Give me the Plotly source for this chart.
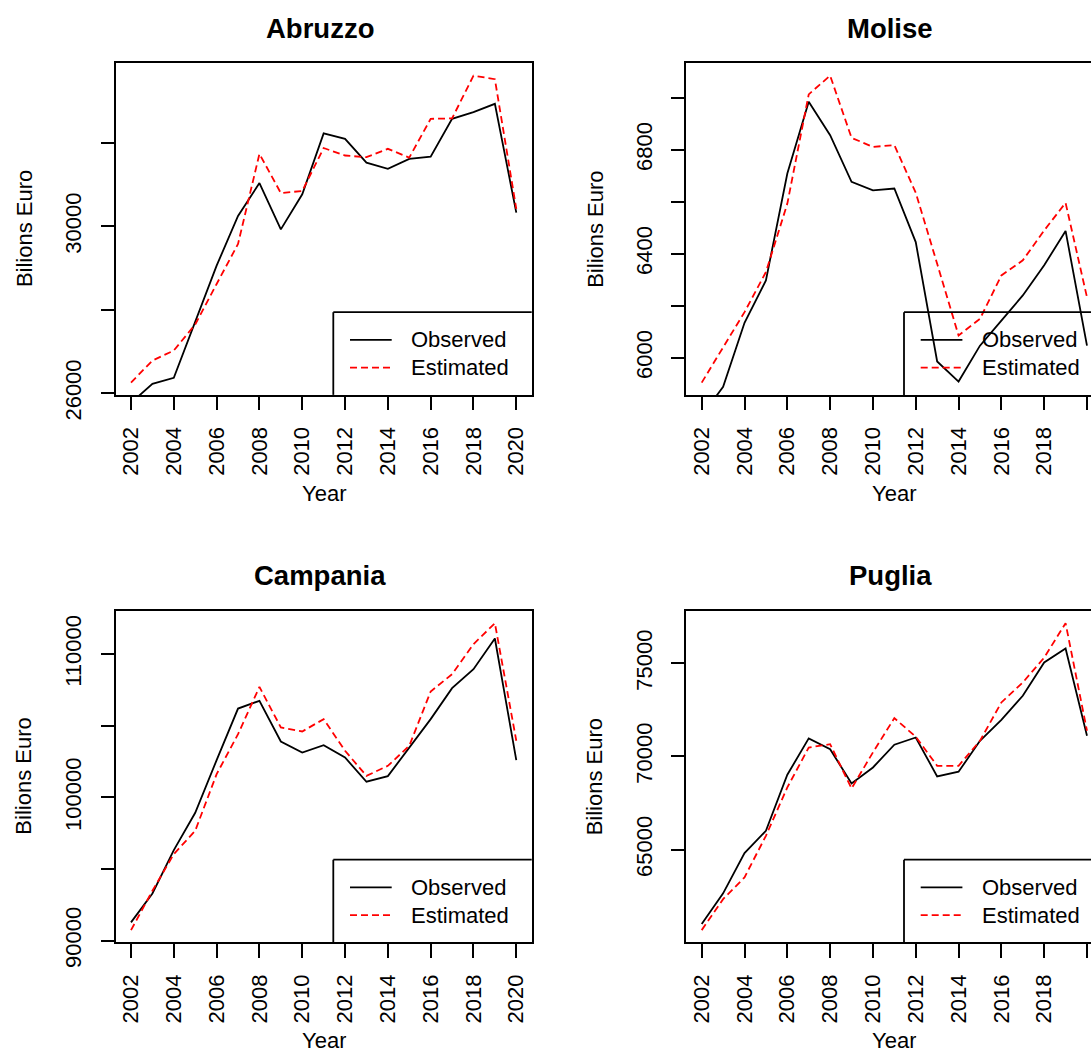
import plotly.graph_objects as go

# ---------------------------------------------------------------- data
years = list(range(2002, 2021))

abruzzo_obs = [25770, 26226, 26372, 27730, 29060, 30250, 31040, 29930, 30770, 32230,
               32100, 31530, 31380, 31620, 31670, 32580, 32740, 32940, 30330]
abruzzo_est = [26256, 26785, 27025, 27650, 28620, 29580, 31740, 30800, 30850, 31880,
               31700, 31660, 31860, 31650, 32580, 32590, 33615, 33530, 30420]

molise_obs = [5777, 5889, 6135, 6298, 6709, 6985, 6856, 6677, 6644, 6651,
              6445, 5986, 5909, 6047, 6143, 6240, 6356, 6488, 6047]
molise_est = [5905, 6040, 6176, 6330, 6593, 7013, 7085, 6846, 6811, 6818,
              6635, 6362, 6086, 6150, 6317, 6375, 6490, 6596, 6233]

campania_obs = [91280, 93300, 96330, 98930, 102610, 106210, 106750, 103910, 103140, 103650,
                102790, 101100, 101490, 103490, 105470, 107630, 108960, 111100, 102610]
campania_est = [90741, 93490, 96050, 97680, 101630, 104420, 107720, 104890, 104610, 105470,
                103260, 101510, 102210, 103610, 107400, 108610, 110700, 112170, 103960]

puglia_obs = [61000, 62650, 64810, 66010, 69020, 70970, 70390, 68550, 69410, 70630,
              71020, 68930, 69180, 70840, 71970, 73260, 75050, 75800, 71110]
puglia_est = [60676, 62340, 63510, 65740, 68340, 70480, 70660, 68280, 70220, 72060,
              71060, 69500, 69500, 70840, 72900, 73970, 75310, 77158, 71380]

regions = ["Abruzzo", "Molise", "Campania", "Puglia"]
observed = [abruzzo_obs, molise_obs, campania_obs, puglia_obs]
estimated = [abruzzo_est, molise_est, campania_est, puglia_est]

# y ticks per panel, and which of them carry a label
y_ticks = [
    [26000, 28000, 30000, 32000],
    [6000, 6200, 6400, 6600, 6800, 7000],
    [90000, 95000, 100000, 105000, 110000],
    [65000, 70000, 75000],
]
y_labels = [
    ["26000", "", "30000", ""],
    ["6000", "", "6400", "", "6800", ""],
    ["90000", "", "100000", "", "110000"],
    ["65000", "70000", "75000"],
]
x_ticks = list(range(2002, 2021, 2))
x_labels = [str(v) for v in x_ticks]

series_names = ["Observed", "Estimated"]
x_title = "Year"
y_title = "Bilions Euro"

# ---------------------------------------------------------------- geometry (px)
W, H = 1091, 1075
SY = H / 1048.0          # vertical positions below are given on a 1048 px grid
FONT = "Liberation Sans, Arial, Helvetica, sans-serif"
TXT = 22
BOX_W, BOX_H = 416.1, 331.2
COL_LEFT = [115.6, 686.3]
ROW_TOP = [63.3, 610.3]
LW = 1.8
DASH = "7px,4px"
RED = "#FF0000"


def px_x(v):
    return v / W


def px_y(v):
    return 1 - v * SY / H


fig = go.Figure()
shapes, annotations = [], []

for i, name in enumerate(regions):
    row, col = divmod(i, 2)
    left, top = COL_LEFT[col], ROW_TOP[row]
    right, bottom = left + BOX_W, top + BOX_H
    ax = "" if i == 0 else str(i + 1)

    # x range padded by 4% on both sides; panels on the right are cut by the page edge
    x_lo = years[0] - 0.04 * (years[-1] - years[0])
    x_hi = years[-1] + 0.04 * (years[-1] - years[0])
    vis_right = min(right, W)
    x_hi_vis = x_lo + (x_hi - x_lo) * (vis_right - left) / BOX_W

    est = estimated[i]
    span = max(est) - min(est)
    y_lo, y_hi = min(est) - 0.04 * span, max(est) + 0.04 * span

    fig.add_trace(go.Scatter(x=years, y=observed[i], mode="lines", name=series_names[0],
                             line=dict(color="black", width=LW), showlegend=False,
                             xaxis="x" + ax, yaxis="y" + ax))
    fig.add_trace(go.Scatter(x=years, y=est, mode="lines", name=series_names[1],
                             line=dict(color=RED, width=LW, dash=DASH), showlegend=False,
                             xaxis="x" + ax, yaxis="y" + ax))

    common = dict(showgrid=False, zeroline=False, showline=True, linecolor="black",
                  linewidth=LW, ticks="outside", tickwidth=LW,
                  tickcolor="black", tickangle=-90,
                  tickfont=dict(family=FONT, size=TXT, color="black"))
    fig.layout["xaxis" + ax] = dict(
        common, domain=[px_x(left), px_x(vis_right)], range=[x_lo, x_hi_vis],
        anchor="y" + ax, tickmode="array", tickvals=x_ticks, ticktext=x_labels,
        mirror=True, ticklen=13 * SY, ticklabelstandoff=8)
    fig.layout["yaxis" + ax] = dict(
        common, domain=[px_y(bottom), px_y(top)], range=[y_lo, y_hi],
        anchor="x" + ax, tickmode="array", tickvals=y_ticks[i], ticktext=y_labels[i],
        mirror=(right <= W), ticklen=13, ticklabelstandoff=11)

    cx = (left + right) / 2
    annotations.append(dict(text="<b>%s</b>" % name, x=px_x(cx - 4), y=px_y(top - 35),
                            xref="paper", yref="paper", showarrow=False,
                            xanchor="center", yanchor="middle",
                            font=dict(family=FONT, size=27.5, color="black")))
    if row == 0:
        annotations.append(dict(text=x_title, x=px_x(cx), y=px_y(bottom + 99),
                                xref="paper", yref="paper", showarrow=False,
                                xanchor="center", yanchor="middle",
                                font=dict(family=FONT, size=TXT, color="black")))
    else:
        # the lower row's axis title is cut by the bottom edge of the page
        annotations.append(dict(text=x_title, x=px_x(cx), y=0, height=16 * SY,
                                valign="middle", xref="paper", yref="paper",
                                showarrow=False, xanchor="center", yanchor="bottom",
                                borderpad=0,
                                font=dict(family=FONT, size=TXT, color="black")))
    annotations.append(dict(text=y_title, x=px_x(left - 91.6), y=px_y((top + bottom) / 2),
                            xref="paper", yref="paper", showarrow=False, textangle=-90,
                            xanchor="center", yanchor="middle",
                            font=dict(family=FONT, size=TXT, color="black")))

    # legend box in the bottom-right corner of the panel (open on the right when cut)
    lg_l, lg_t = right - 198.4, bottom - 82.6
    lg_r = min(right, W)
    shapes.append(dict(type="line", xref="paper", yref="paper",
                       x0=px_x(lg_l), x1=px_x(lg_l), y0=px_y(bottom), y1=px_y(lg_t),
                       line=dict(color="black", width=LW)))
    shapes.append(dict(type="line", xref="paper", yref="paper",
                       x0=px_x(lg_l), x1=px_x(lg_r), y0=px_y(lg_t), y1=px_y(lg_t),
                       line=dict(color="black", width=LW)))
    for k, (clr, dash) in enumerate([("black", "solid"), (RED, DASH)]):
        ly = lg_t + 27.6 + 27.7 * k
        shapes.append(dict(type="line", xref="paper", yref="paper",
                           x0=px_x(lg_l + 16.7), x1=px_x(lg_l + 58.4),
                           y0=px_y(ly), y1=px_y(ly),
                           line=dict(color=clr, width=LW, dash=dash)))
        annotations.append(dict(text=series_names[k], x=px_x(lg_l + 75.7), y=px_y(ly),
                                xref="paper", yref="paper", showarrow=False,
                                xanchor="left", yanchor="middle",
                                font=dict(family=FONT, size=TXT, color="black")))

fig.update_layout(width=W, height=H, margin=dict(l=0, r=0, t=0, b=0),
                  paper_bgcolor="white", plot_bgcolor="white",
                  shapes=shapes, annotations=annotations, showlegend=False)

fig.write_html("out.html")
